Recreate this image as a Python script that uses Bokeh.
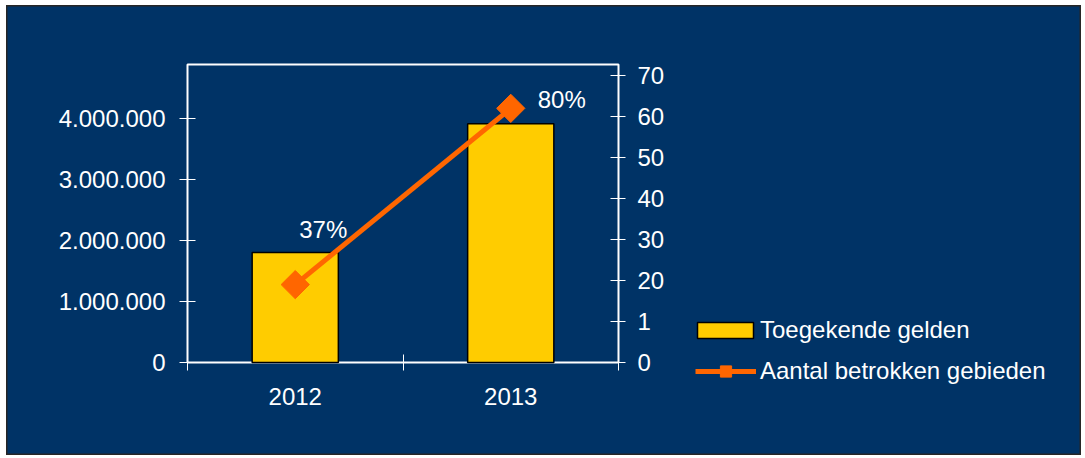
from bokeh.plotting import figure
from bokeh.models import (Range1d, LinearAxis, FixedTicker, Legend, LegendItem,
                          ColumnDataSource, BoxAnnotation)
from bokeh.embed import file_html
from bokeh.resources import INLINE

# ---- data ----
years = ["2012", "2013"]
toegekende_gelden = [1800000, 3910000]
aantal_gebieden = [19, 62]
percent_labels = ["37%", "80%"]
left_ticks = [0, 1000000, 2000000, 3000000, 4000000]
left_tick_labels = ["0", "1.000.000", "2.000.000", "3.000.000", "4.000.000"]
right_ticks = [0, 10, 20, 30, 40, 50, 60, 70]
right_tick_labels = ["0", "1", "20", "30", "40", "50", "60", "70"]
left_max = 4.88e6
right_max = 72.7

# ---- style / layout ----
BG = "#003366"
FONT = "Liberation Sans"
FS = "24px"
TXT = "#FFFFFF"
W, H = 1075, 450              # canvas size (frame fills the canvas)
X0, PX_PER_CAT = 181, 215.5   # canvas x of category 0 boundary, px per category
Y0, PLOT_H = 357, 298         # canvas y of value 0, height of plot box

xpos = [i + 0.5 for i in range(len(years))]
src = ColumnDataSource(dict(
    x=xpos, gelden=toegekende_gelden, gebieden=aantal_gebieden, lbl=percent_labels,
    xo=[4, 27], yo=[-55, -9],
))

ly = left_max / PLOT_H   # value per px (left)
ry = right_max / PLOT_H  # value per px (right)
p = figure(width=W, height=H,
           x_range=Range1d(-X0 / PX_PER_CAT, (W - X0) / PX_PER_CAT),
           y_range=Range1d(-(H - Y0) * ly, Y0 * ly),
           output_backend="svg", toolbar_location=None,
           background_fill_color=BG, border_fill_color=BG,
           min_border=0, min_border_left=0, min_border_right=0,
           min_border_top=0, min_border_bottom=0,
           outline_line_color="#262626", outline_line_width=2)
p.styles = {"margin-left": "6px", "margin-top": "5px"}
p.extra_y_ranges = {"right": Range1d(-(H - Y0) * ry, Y0 * ry)}
p.grid.visible = False

# plot-area box
p.add_layout(BoxAnnotation(left=0, right=len(years), bottom=0, top=left_max,
                           fill_alpha=0, line_color="white", line_alpha=1.0,
                           line_width=2, level="underlay"))

bars = p.vbar(x="x", top="gelden", width=0.4, source=src,
              fill_color="#FFCC00", line_color="black", line_width=1.5)
line = p.line(x="x", y="gebieden", source=src, y_range_name="right",
              line_color="#FF6600", line_width=5)
marks = p.scatter(x="x", y="gebieden", source=src, y_range_name="right",
                  marker="square", size=20, angle=0.785398,
                  fill_color="#FF6600", line_color="#FF6600")
p.text(x="x", y="gebieden", text="lbl", source=src, y_range_name="right",
       x_offset="xo", y_offset="yo", text_align="left", text_baseline="middle",
       text_color=TXT, text_font_size=FS, text_font={"value": FONT})

# x axis: labels at category centers, tick marks at boundaries
xa = p.xaxis[0]
xa.fixed_location = 0
xa.ticker = FixedTicker(ticks=xpos, minor_ticks=list(range(len(years) + 1)))
xa.major_label_overrides = {xv: y for xv, y in zip(xpos, years)}
xa.major_tick_line_color = None
xa.major_tick_in = 0
xa.major_tick_out = 8
xa.minor_tick_line_color = "white"
xa.minor_tick_in = 8
xa.minor_tick_out = 8
xa.major_label_standoff = 17

ya = p.yaxis[0]
ya.fixed_location = 0
ya.ticker = FixedTicker(ticks=left_ticks)
ya.major_label_overrides = {t: l for t, l in zip(left_ticks, left_tick_labels)}
ya.major_tick_in = 8
ya.major_tick_out = 8
ya.major_label_standoff = 14

ra = LinearAxis(y_range_name="right")
ra.fixed_location = len(years)
ra.ticker = FixedTicker(ticks=right_ticks)
ra.major_label_overrides = {t: l for t, l in zip(right_ticks, right_tick_labels)}
ra.major_tick_in = 8
ra.major_tick_out = 7
ra.major_label_standoff = 12
p.add_layout(ra, "right")

for ax in (xa, ya, ra):
    ax.axis_line_color = None
    ax.major_label_text_color = TXT
    ax.major_label_text_font = FONT
    ax.major_label_text_font_size = FS
    if ax is not xa:
        ax.major_tick_line_color = "white"
        ax.minor_tick_line_color = None


def make_legend(item, loc, gw, gh, standoff):
    lg = Legend(items=[item], location=loc)
    lg.background_fill_alpha = 0
    lg.border_line_color = None
    lg.label_text_color = TXT
    lg.label_text_font = FONT
    lg.label_text_font_size = FS
    lg.glyph_width = gw
    lg.glyph_height = gh
    lg.label_standoff = standoff
    lg.padding = 0
    lg.margin = 0
    return lg


p.add_layout(make_legend(LegendItem(label="Toegekende gelden", renderers=[bars]),
                         (684, 111), 70, 20, 0), "center")
p.add_layout(make_legend(LegendItem(label="Aantal betrokken gebieden",
                                    renderers=[line, marks]),
                         (689, 70), 61, 28, 4), "center")

open("out.html", "w").write(file_html(p, INLINE))
